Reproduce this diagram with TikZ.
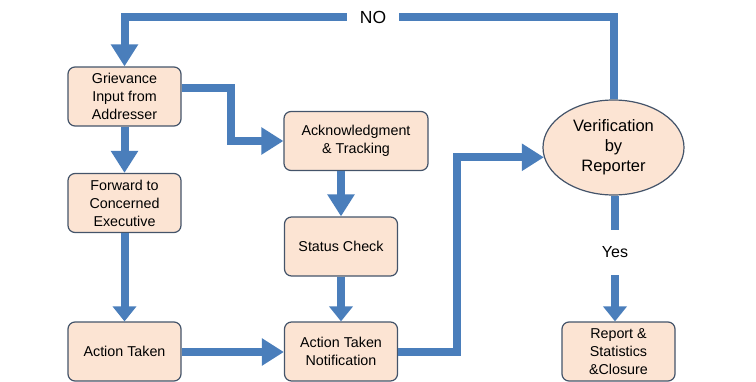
\documentclass[tikz,border=0pt]{standalone}
\usepackage{fontspec}
\setmainfont{Liberation Sans}
\usetikzlibrary{arrows.meta,shapes.geometric}
\definecolor{boxfill}{HTML}{FCE4D3}
\definecolor{boxline}{HTML}{44546A}
\definecolor{flow}{HTML}{4A7EBB}
\tikzset{
  box/.style={rectangle, rounded corners=7pt, draw=boxline, line width=1.2pt, fill=boxfill,
    minimum width=113pt, minimum height=59pt, inner sep=0pt, align=center,
    font=\fontsize{14.3}{18}\selectfont},
  oval/.style={ellipse, draw=boxline, line width=1.2pt, fill=boxfill,
    minimum width=141pt, minimum height=95pt, inner sep=0pt, align=center,
    font=\fontsize{16.5}{20}\selectfont},
  flowline/.style={draw=flow, line width=8pt},
  flowarr/.style={flowline, -{Triangle[length=22pt,width=26pt]}},
  shortarr/.style={flowline, -{Triangle[length=15pt,width=23pt]}},
  lbl/.style={inner sep=0pt}
}
\begin{document}
\begin{tikzpicture}[x=1pt,y=-1pt]
\useasboundingbox (0,0) rectangle (756,381);
% nodes
\node[box] (gri) at (124.5,96.5) {Grievance\\Input from\\Addresser};
\node[box] (fwd) at (124.5,203) {Forward to\\Concerned\\Executive};
\node[box] (act) at (124.5,351.5) {Action Taken};
\node[box, minimum width=144pt] (ack) at (356,141) {Acknowledgment\\\& Tracking};
\node[box] (sc) at (341,246.5) {Status Check};
\node[box] (atn) at (341,351.5) {Action Taken\\Notification};
\node[oval] (ver) at (613.5,147.5) {Verification\\by\\Reporter};
\node[box] (rep) at (618.5,351.5) {Report \&\\Statistics\\\&Closure};
\node[lbl, font=\fontsize{17.5}{20}\selectfont, minimum width=52pt, minimum height=16pt] (no) at (373,17) {NO};
\node[lbl, font=\fontsize{16}{19}\selectfont, minimum width=30pt, minimum height=45pt] (yes) at (615,252.5) {Yes};
\coordinate (g1) at (231,88);
\coordinate (a1) at (457,352);
% connectors
\draw[flowline] (ver.north) |- (no.east);
\draw[flowarr] (no.west) -| (gri.north);
\draw[flowarr] (gri.east |- g1) -- (g1) |- (ack.west);
\draw[flowarr] (gri.south) -- (fwd.north);
\draw[shortarr] (fwd.south) -- (act.north);
\draw[flowarr] (act.east |- a1) -- (atn.west |- a1);
\draw[flowarr] (sc.north |- ack.south) -- (sc.north);
\draw[shortarr] (sc.south) -- (atn.north);
\draw[flowarr] (atn.east |- a1) -- (a1) |- (ver.188);
\draw[flowline] (ver.south -| yes.north) -- (yes.north);
\draw[shortarr] (yes.south) -- (yes.south |- rep.north);
\end{tikzpicture}
\end{document}
